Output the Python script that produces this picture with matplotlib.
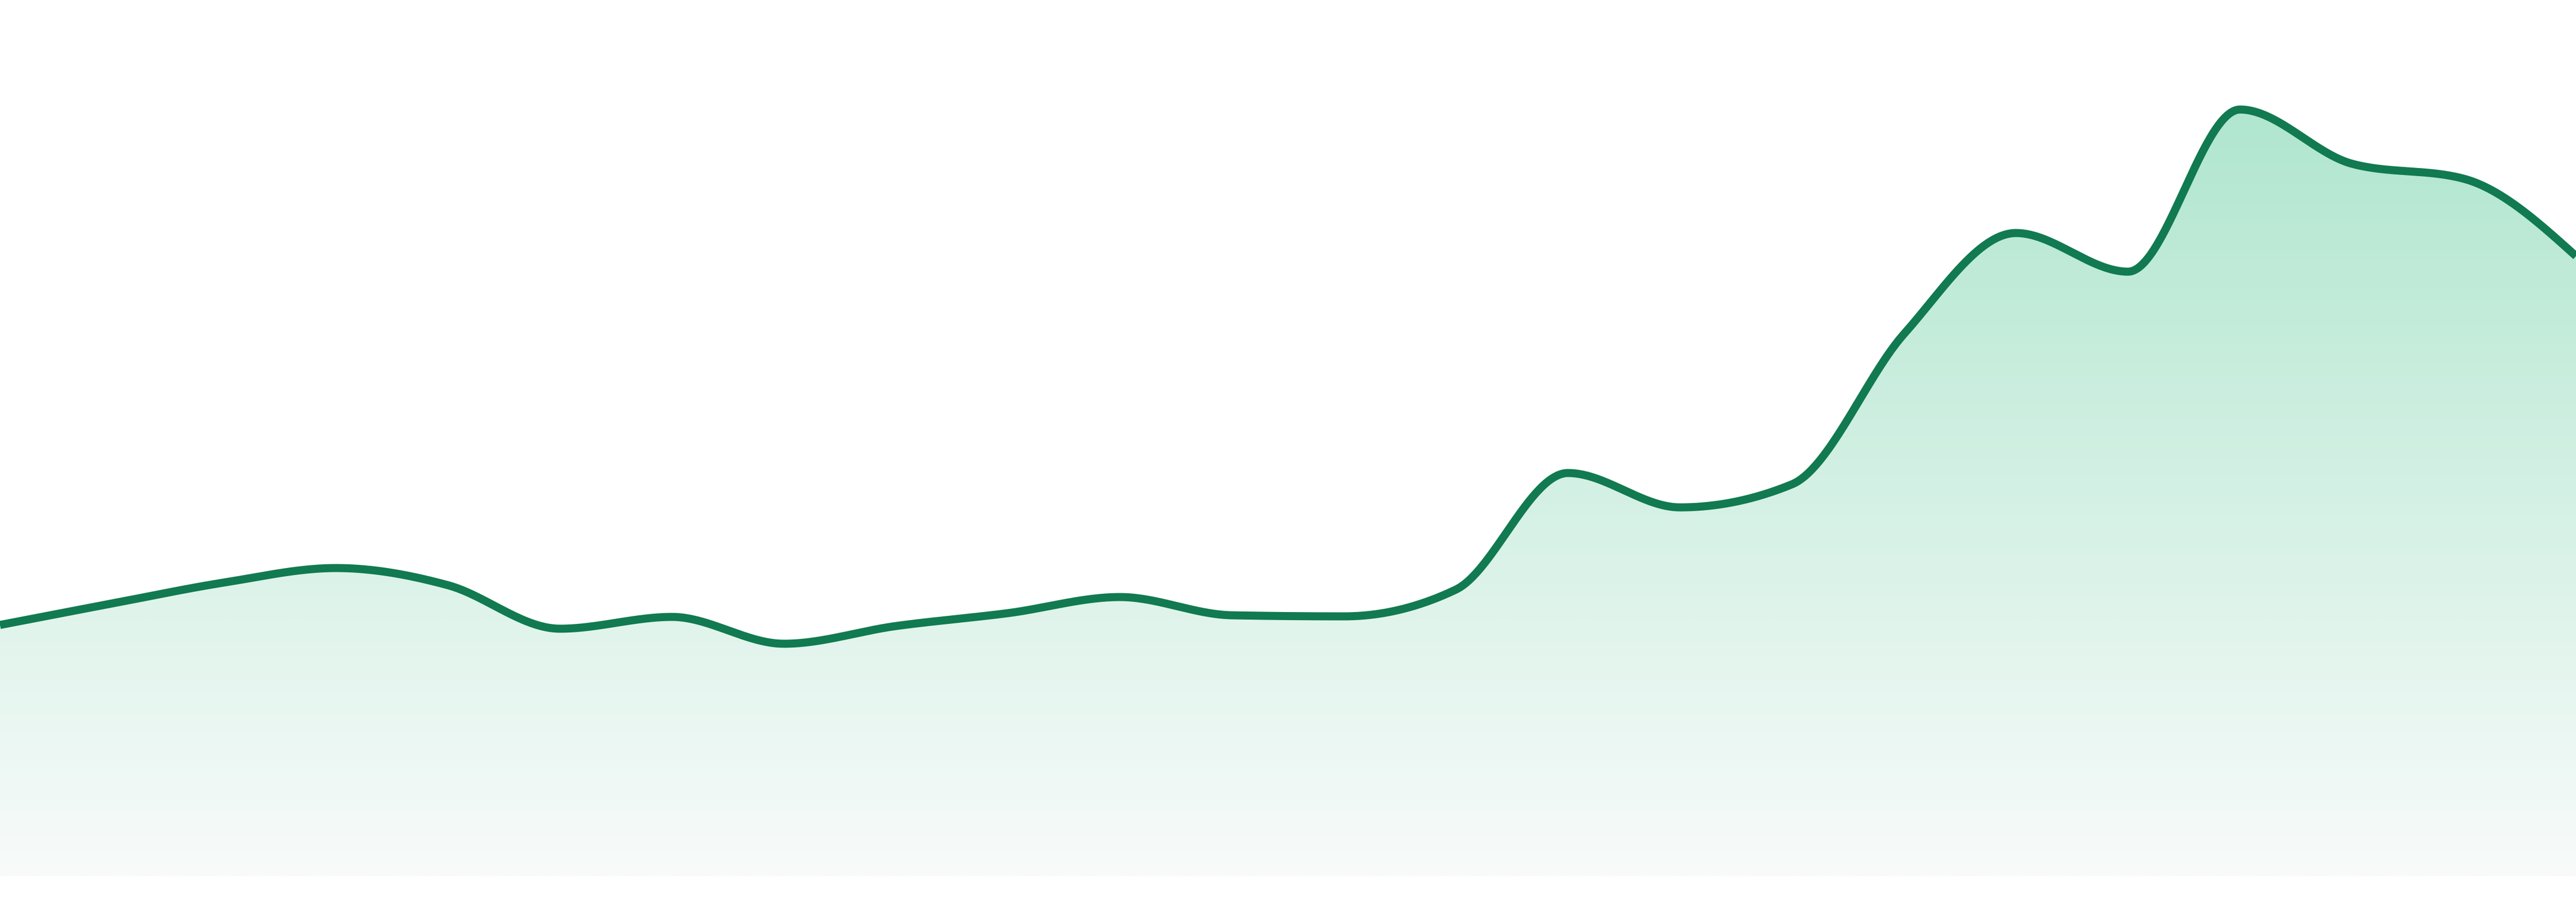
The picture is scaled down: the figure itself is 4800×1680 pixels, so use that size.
import numpy as np
import matplotlib
matplotlib.use("Agg")
import matplotlib.pyplot as plt
from matplotlib.colors import LinearSegmentedColormap

# ---- data ----
periods = list(range(24))
values = [46.8, 50.8, 54.7, 57.4, 54.2, 46.1, 48.3, 43.3, 46.6, 49.0, 52.0, 48.6,
          48.4, 53.4, 75.1, 68.7, 73.0, 101.0, 119.8, 112.6, 142.8, 132.7, 129.9, 115.5]

LINE_COLOR = "#117a50"
FILL_TOP = "#b0e6cf"
FILL_BOTTOM = "#f8fbfa"


def monotone_x(x, y, n=60):
    """d3 curveMonotoneX-style cubic Hermite rendering of the series."""
    x = np.asarray(x, float)
    y = np.asarray(y, float)
    h = np.diff(x)
    s = np.diff(y) / h
    m = len(x)
    t = np.zeros(m)
    for i in range(1, m - 1):
        s0, s1 = s[i - 1], s[i]
        h0, h1 = h[i - 1], h[i]
        p = (s0 * h1 + s1 * h0) / (h0 + h1)
        t[i] = (np.sign(s0) + np.sign(s1)) * min(abs(s0), abs(s1), 0.5 * abs(p))
    t[0] = (3 * s[0] - t[1]) / 2
    t[-1] = (3 * s[-1] - t[-2]) / 2
    xs, ys = [], []
    for i in range(m - 1):
        u = np.linspace(0, 1, n, endpoint=(i == m - 2))
        h00 = 2 * u**3 - 3 * u**2 + 1
        h10 = u**3 - 2 * u**2 + u
        h01 = -2 * u**3 + 3 * u**2
        h11 = u**3 - u**2
        xs.append(x[i] + u * h[i])
        ys.append(h00 * y[i] + h10 * h[i] * t[i] + h01 * y[i + 1] + h11 * h[i] * t[i + 1])
    return np.concatenate(xs), np.concatenate(ys)


fig = plt.figure(figsize=(48, 16.8), dpi=100)
ax = fig.add_axes([0, 0, 1, 1])
ax.set_xlim(periods[0], periods[-1])
ax.set_ylim(-4.8, 163.2)
ax.axis("off")

cx, cy = monotone_x(periods, values)

# gradient fill under the curve
top_val = max(values)
cmap = LinearSegmentedColormap.from_list("g", [FILL_BOTTOM, FILL_TOP])
grad = np.linspace(0, 1, 512).reshape(-1, 1)
poly = ax.fill_between(cx, 0, cy, color="none", lw=0)
img = ax.imshow(grad, cmap=cmap, aspect="auto", origin="lower",
                extent=[periods[0], periods[-1], 0, top_val], zorder=1,
                interpolation="bilinear")
clip = poly.get_paths()[0]
img.set_clip_path(clip, transform=ax.transData)

ax.plot(cx, cy, color=LINE_COLOR, lw=10.8, zorder=3, solid_capstyle="butt",
        solid_joinstyle="round")

fig.savefig("out.png", dpi=100, facecolor="white")
